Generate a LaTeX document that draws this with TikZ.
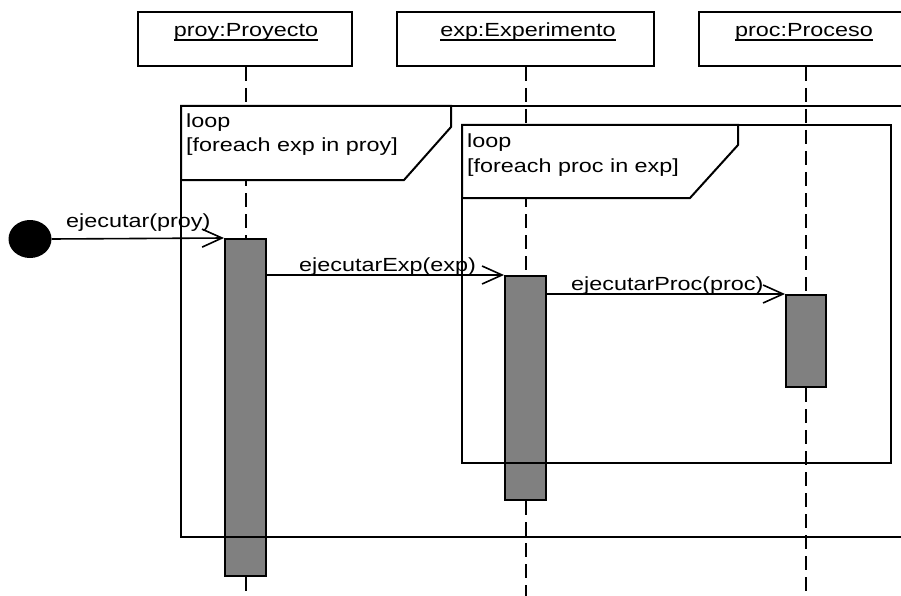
\documentclass[tikz,border=0pt]{standalone}
\usepackage{fontspec}
\setmainfont{Liberation Sans}[FakeStretch=1.23]
\usetikzlibrary{arrows.meta,shapes.geometric}

\definecolor{barfill}{HTML}{808080}

% underline drawn through the descenders, as UML object names are shown
\newcommand\objname[1]{\setbox0\hbox{#1}\rlap{\rule[-3.7pt]{\wd0}{1.4pt}}\box0}

\tikzset{
  txt/.style={inner sep=0pt, anchor=base west, font=\fontsize{19}{24}\selectfont},
  headtxt/.style={txt, anchor=base},
  headbox/.style={draw, line width=2pt, minimum height=54pt, inner sep=0pt},
  lifeline/.style={line width=2pt, dash pattern=on 14pt off 7pt},
  actbar/.style={draw, fill=barfill, line width=2pt, minimum width=41pt, inner sep=0pt},
  msg/.style={line width=1.6pt, -{Straight Barb[length=20pt,width=18pt]}},
  fragment/.style={line width=2pt},
  fragtag/.style={draw, fill=white, line width=2pt, line join=miter},
  startpt/.style={ellipse, fill=black, inner sep=0pt, minimum width=43pt, minimum height=38pt},
}

\begin{document}
\begin{tikzpicture}[x=1pt, y=-1pt]
\useasboundingbox (0,0) rectangle (901,596);
\clip (0,0) rectangle (901,596);

% object heads
\node[headbox, minimum width=214pt] (h1) at (245,39) {};
\node[headbox, minimum width=257pt] (h2) at (525.5,39) {};
\node[headbox, minimum width=221pt] (h3) at (809.5,39) {};
\node[headtxt] (t1) at (246,37) {\objname{proy:Proyecto}};
\node[headtxt] (t2) at (528,37) {\objname{exp:Experimento}};
\node[headtxt] (t3) at (804,37) {\objname{proc:Proceso}};

% activation bars
\node[actbar, minimum height=337pt] (a1) at (245.5,407.5) {};
\node[actbar, minimum height=224pt] (a2) at (525.5,388) {};
\node[actbar, minimum width=40pt, minimum height=92pt] (a3) at (806,341) {};

% lifelines, interrupted by the bars
\coordinate (bottom) at (0,596);
\coordinate (ll1) at (246,0);
\coordinate (ll2) at (526,0);
\coordinate (ll3) at (806,0);
\draw[lifeline] (h1.south -| ll1) -- (a1.north -| ll1);
\draw[lifeline] (a1.south -| ll1) -- (bottom -| ll1);
\draw[lifeline] (h2.south -| ll2) -- (a2.north -| ll2);
\draw[lifeline] (a2.south -| ll2) -- (bottom -| ll2);
\draw[lifeline] (h3.south -| ll3) -- (a3.north -| ll3);
\draw[lifeline] (a3.south -| ll3) -- (bottom -| ll3);

% outer loop fragment
\draw[fragment] (181,106) rectangle (920,537);
\draw[fragtag] (181,106) -- (451,106) -- (451,127) -- (404,180) -- (181,180) -- cycle;
\node[txt] (o1) at (186,128) {loop};
\node[txt] (o2) at (186,152) {[foreach exp in proy]};

% inner loop fragment
\draw[fragment] (462,125) rectangle (891,463);
\draw[fragtag] (462,125) -- (738,125) -- (738,145) -- (690,198) -- (462,198) -- cycle;
\node[txt] (i1) at (467,148) {loop};
\node[txt] (i2) at (467,172.5) {[foreach proc in exp]};

% messages
\node[startpt] (start) at (30,239) {};
\draw[msg] (start.east) -- (a1.north west);
\node[txt] (l1) at (66,227) {ejecutar(proy)};

\coordinate (m2s) at (a1.east |- a2.north);
\draw[msg] (m2s) -- (a2.north west);
\node[txt] (l2) at (299,271.5) {ejecutarExp(exp)};

\coordinate (m3s) at (a2.east |- a3.north);
\draw[msg] (m3s) -- (a3.north west);
\node[txt] (l3) at (571,290.5) {ejecutarProc(proc)};
\end{tikzpicture}
\end{document}
